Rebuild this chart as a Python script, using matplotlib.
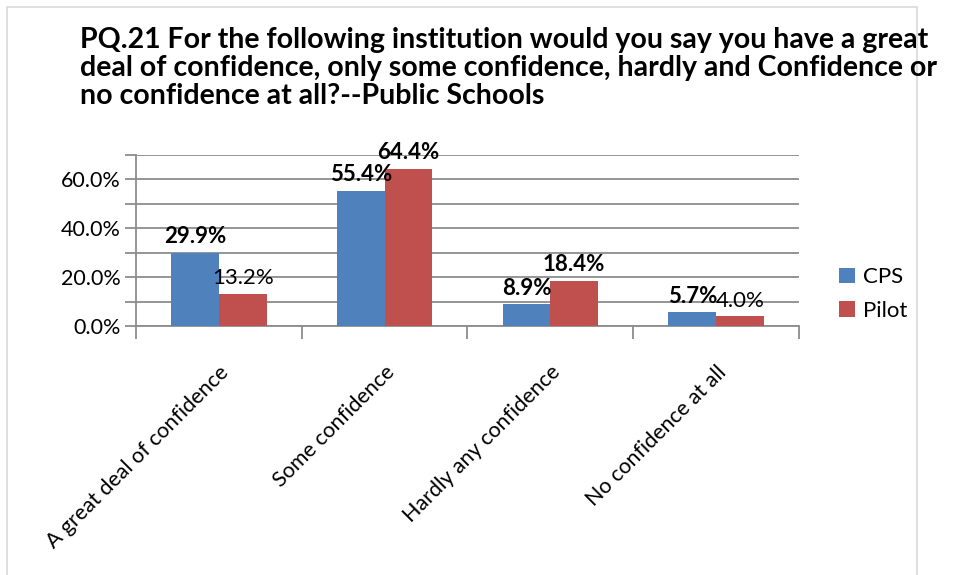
### recreate PQ.21 public schools confidence bar chart
import numpy as np
import matplotlib.pyplot as plt
from matplotlib.patches import Rectangle

plt.rcParams['font.family'] = ['Lato', 'DejaVu Sans']

categories = ['A great deal of confidence', 'Some confidence',
              'Hardly any confidence', 'No confidence at all']
cps = [29.9, 55.4, 8.9, 5.7]
pilot = [13.2, 64.4, 18.4, 4.0]
series_names = ['CPS', 'Pilot']
title = ('PQ.21 For the following institution would you say you have a great\n'
         'deal of confidence, only some confidence, hardly and Confidence or\n'
         'no confidence at all?--Public Schools')

fig = plt.figure(figsize=(9.54, 5.75), dpi=100)

# light chart border (runs off the bottom like the original)
fig.patches.append(Rectangle((7/954, -0.05), (917-7)/954, 1.05 - 7/575,
                             transform=fig.transFigure, fill=False,
                             edgecolor='#d9d9d9', linewidth=1.2, zorder=0))

fig.text(80/954, 1 - 27/575, title, ha='left', va='top', fontsize=20.5,
         fontweight='bold', linespacing=1.1)

ax = fig.add_axes([136/954, (575-326)/575, (799-136)/954, (326-155)/575])

x = np.arange(len(categories))
w = 0.2875
b1 = ax.bar(x - w/2, cps, w, color='#4F81BD', label=series_names[0], zorder=3)
b2 = ax.bar(x + w/2, pilot, w, color='#C0504D', label=series_names[1], zorder=3)

pilot_bold = [False, True, True, False]
for rect, v in zip(b1, cps):
    ax.annotate(f'{v:.1f}%', (rect.get_x() + rect.get_width()/2, v),
                xytext=(0, 4), textcoords='offset points', ha='center',
                va='bottom', fontsize=16, fontweight='bold', zorder=5)
for rect, v, bold in zip(b2, pilot, pilot_bold):
    ax.annotate(f'{v:.1f}%', (rect.get_x() + rect.get_width()/2, v),
                xytext=(0, 4), textcoords='offset points', ha='center',
                va='bottom', fontsize=16,
                fontweight='bold' if bold else 'normal', zorder=5)

ax.set_xlim(-0.5, len(categories) - 0.5)
ax.set_ylim(0, 70)
ax.set_yticks(np.arange(0, 61, 20))
ax.set_yticklabels([f'{t:.1f}%' for t in range(0, 61, 20)])
ax.set_yticks(np.arange(0, 71, 10), minor=True)
ax.grid(axis='y', which='both', color='#8c8c8c', linewidth=1.3, zorder=0)

ax.set_xticks(np.arange(len(categories) + 1) - 0.5)
ax.set_xticklabels([])
ax.set_xticks(x, minor=True)
ax.set_xticklabels(categories, minor=True, rotation=45, ha='right',
                   va='top', rotation_mode='anchor')

ax.tick_params(axis='y', which='both', length=8, width=1.3, color='#8c8c8c',
               labelsize=15.5, pad=3)
ax.tick_params(axis='x', which='major', length=9, width=1.3, color='#8c8c8c')
ax.tick_params(axis='x', which='minor', length=0, labelsize=15.5, pad=26)

for s in ['top', 'right']:
    ax.spines[s].set_visible(False)
for s in ['left', 'bottom']:
    ax.spines[s].set_color('#8c8c8c')
    ax.spines[s].set_linewidth(1.3)

ax.legend(loc='center left', bbox_to_anchor=(819/954, 1 - 294/575),
          bbox_transform=fig.transFigure, frameon=False, fontsize=16,
          handlelength=0.7, handleheight=0.7, handletextpad=0.4,
          labelspacing=0.6)

plt.savefig('out.png', format='png')
